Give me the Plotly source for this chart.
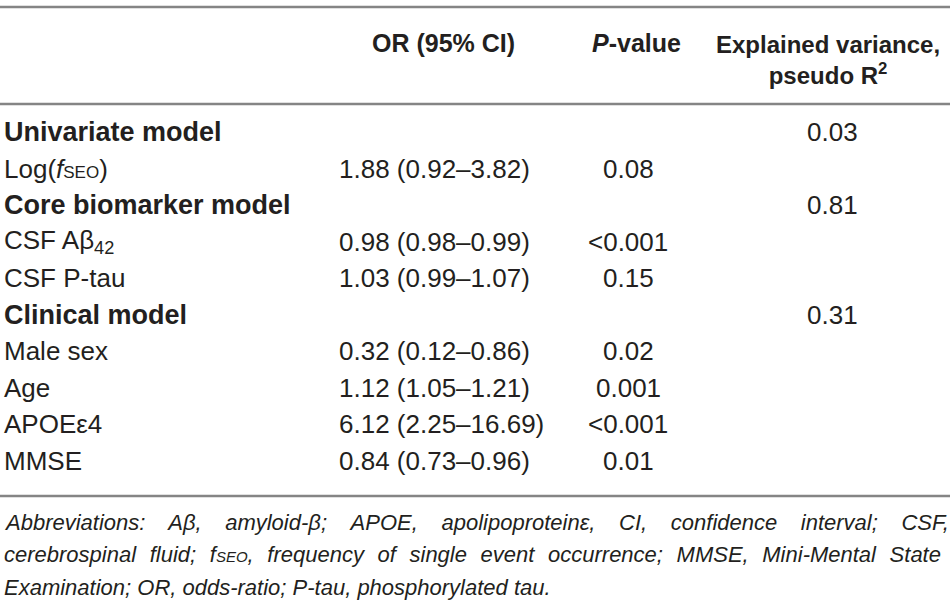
import plotly.graph_objects as go

# ---- data ----
col_headers = ["OR (95% CI)", "<b><i>P</i>-value</b>", "Explained variance,<br>pseudo R<sup>2</sup>"]
row_labels = [
    "Univariate model",
    "Log(<i>f</i><span style='font-size:17px'>SEO</span>)",
    "Core biomarker model",
    "CSF Aβ<sub>42</sub>",
    "CSF P-tau",
    "Clinical model",
    "Male sex",
    "Age",
    "APOEε4",
    "MMSE",
]
is_group = [True, False, True, False, False, True, False, False, False, False]
or_values = ["", "1.88 (0.92–3.82)", "", "0.98 (0.98–0.99)", "1.03 (0.99–1.07)",
             "", "0.32 (0.12–0.86)", "1.12 (1.05–1.21)", "6.12 (2.25–16.69)", "0.84 (0.73–0.96)"]
p_values = ["", "0.08", "", "<0.001", "0.15", "", "0.02", "0.001", "<0.001", "0.01"]
r2_values = ["0.03", "", "0.81", "", "", "0.31", "", "", "", ""]
footnotes = [
    "Abbreviations: Aβ, amyloid-β; APOE, apolipoproteinε, CI, confidence interval; CSF,",
    "cerebrospinal fluid; f<span style='font-size:15px'>SEO</span>, frequency of single event occurrence; MMSE, Mini-Mental State",
    "Examination; OR, odds-ratio; P-tau, phosphorylated tau.",
]
footnote_word_spacing = [17.5, 7.5, 0]

# ---- layout (pixel coordinates) ----
W, H = 950, 602
FONT = "Liberation Sans, Arial, sans-serif"
COLOR = "#231f20"
LINE = "#858585"

x_label = 2
x_or = 337
x_p = 628
x_r2 = 832
row_y0 = 132
row_step = 36.5

fig = go.Figure()
ann = []

# column headers
ann.append(dict(x=443, y=43, text="<b>" + col_headers[0] + "</b>", xanchor="center", yanchor="middle",
                font=dict(size=25)))
ann.append(dict(x=636, y=43, text=col_headers[1], xanchor="center", yanchor="middle",
                font=dict(size=25)))
ann.append(dict(x=828, y=60, text="<b>" + col_headers[2] + "</b>", xanchor="center", yanchor="middle",
                align="center", font=dict(size=24)))

for i, lab in enumerate(row_labels):
    y = row_y0 + i * row_step
    if is_group[i]:
        ann.append(dict(x=x_label, y=y, text="<b>" + lab + "</b>", xanchor="left", yanchor="middle",
                        font=dict(size=27)))
    else:
        ann.append(dict(x=x_label, y=y, text=lab, xanchor="left", yanchor="middle",
                        font=dict(size=26)))
    if or_values[i]:
        ann.append(dict(x=x_or, y=y, text=or_values[i], xanchor="left", yanchor="middle",
                        font=dict(size=26)))
    if p_values[i]:
        ann.append(dict(x=x_p, y=y, text=p_values[i].replace("<", "&lt;"), xanchor="center",
                        yanchor="middle", font=dict(size=26)))
    if r2_values[i]:
        ann.append(dict(x=x_r2, y=y, text=r2_values[i], xanchor="center", yanchor="middle",
                        font=dict(size=26)))

for j, t in enumerate(footnotes):
    ws = footnote_word_spacing[j]
    txt = "<i><span style='word-spacing:%spx'>%s</span></i>" % (ws, t) if ws else "<i>%s</i>" % t
    ann.append(dict(x=x_label, y=522 + j * 32.5, text=txt, xanchor="left", yanchor="middle",
                    font=dict(size=22)))

for a in ann:
    a.update(xref="x", yref="y", showarrow=False)
    a["font"].update(family=FONT, color=COLOR)

shapes = []
for yl in [7, 104, 496]:
    shapes.append(dict(type="line", xref="x", yref="y", x0=0, x1=W, y0=yl, y1=yl,
                       line=dict(color=LINE, width=2.5)))

fig.update_layout(
    width=W, height=H,
    margin=dict(l=0, r=0, t=0, b=0),
    paper_bgcolor="white", plot_bgcolor="white",
    xaxis=dict(range=[0, W], visible=False, fixedrange=True),
    yaxis=dict(range=[H, 0], visible=False, fixedrange=True),
    annotations=ann, shapes=shapes, showlegend=False,
)

fig.write_html("out.html", config={"displayModeBar": False})

# remove the browser's default page margin so the figure sits at (0, 0)
with open("out.html", "r", encoding="utf-8") as f:
    html = f.read()
html = html.replace("<head>", "<head><style>html,body{margin:0;padding:0;overflow:hidden;}</style>", 1)
with open("out.html", "w", encoding="utf-8") as f:
    f.write(html)
